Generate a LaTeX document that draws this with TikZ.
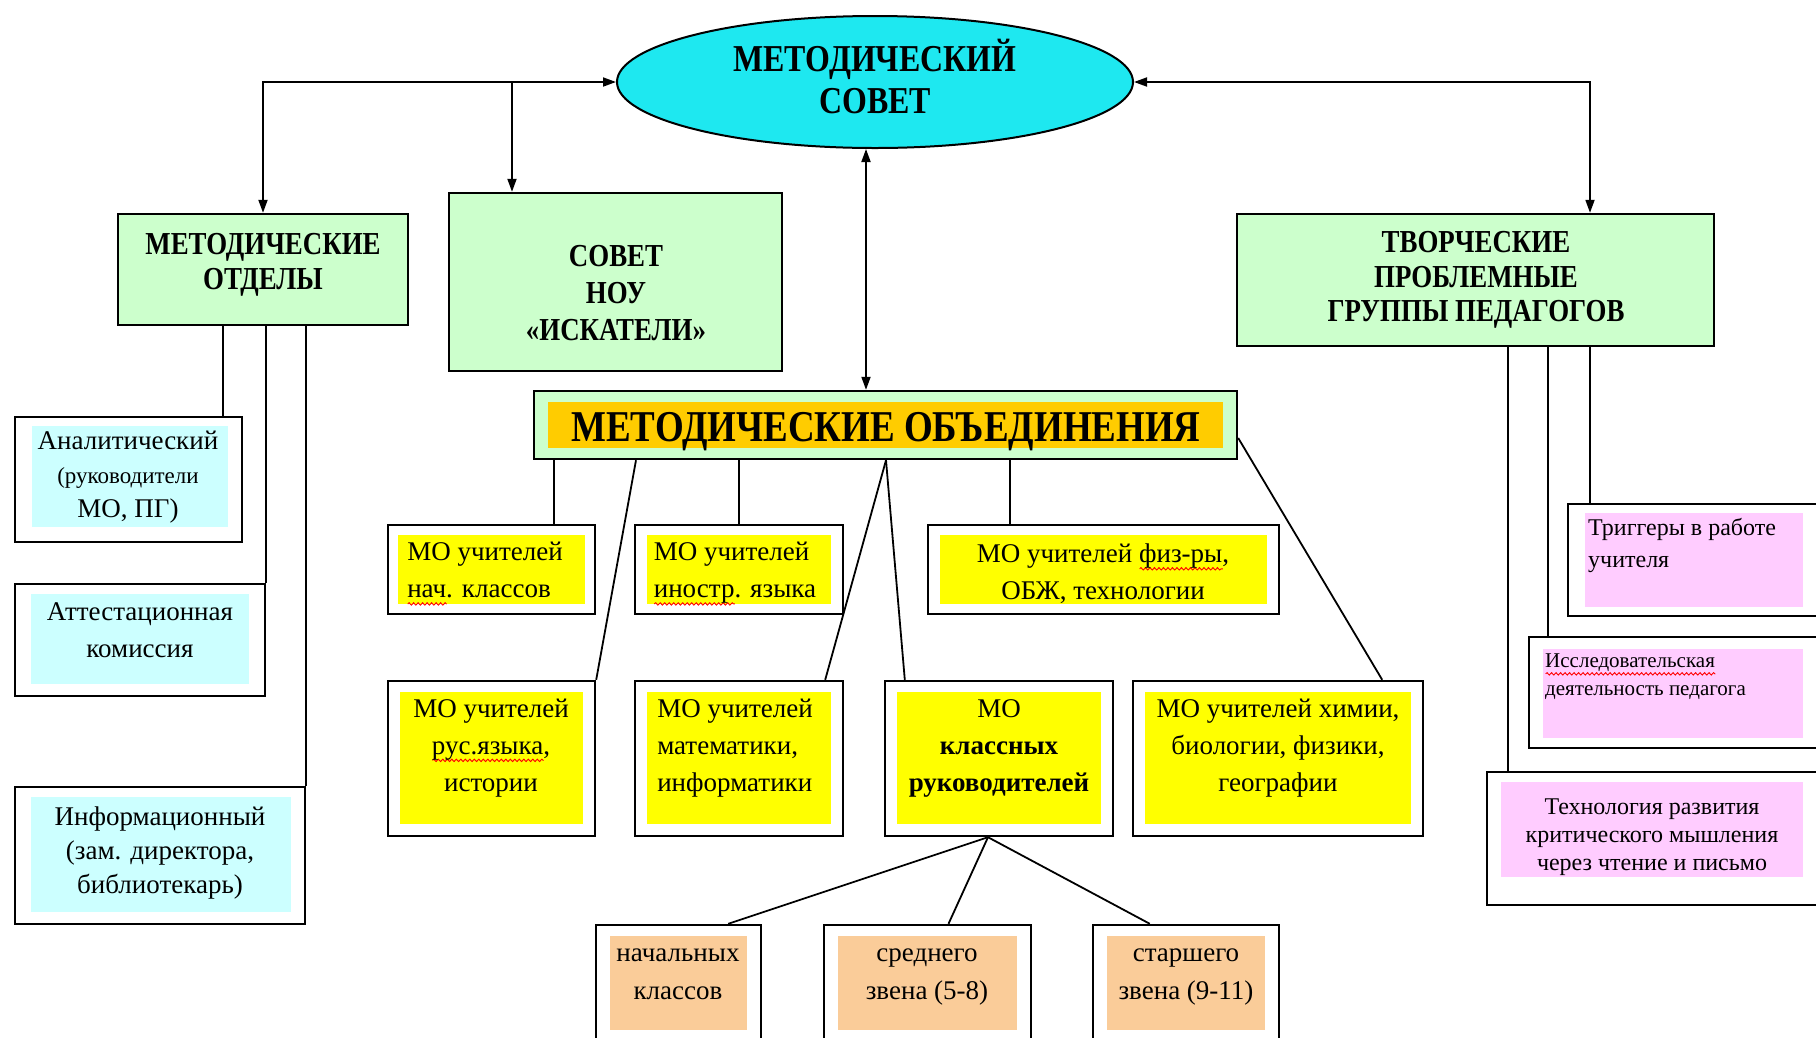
\documentclass[tikz,border=0pt]{standalone}
\usepackage{fontspec}
\setmainfont{Liberation Serif}
\newfontfamily\cond[FakeStretch=0.84]{Liberation Serif}
\usetikzlibrary{arrows.meta,shapes.geometric,fit,decorations.pathmorphing}
\definecolor{gr}{HTML}{CCFFCC}
\definecolor{cy}{RGB}{30,232,240}
\definecolor{og}{HTML}{FFCC00}
\definecolor{ye}{HTML}{FFFF00}
\definecolor{lc}{HTML}{CCFFFF}
\definecolor{pe}{HTML}{FACC99}
\definecolor{pk}{HTML}{FFCCFF}
\newlength\rwlen
\newcommand\rw[1]{\settowidth\rwlen{#1}\makebox[0pt][l]{\tikz[baseline=0pt]\draw[red,line width=0.9pt,decorate,decoration={snake,amplitude=1.2pt,segment length=4.5pt}] (0pt,-6pt) -- (\rwlen,-6pt);}#1}
\tikzset{
  Tri/.tip={Triangle[length=13pt,width=9pt]},
  con/.style={line width=1.8pt, draw=black},
  gbox/.style={draw=black, line width=2.4pt, fill=gr, inner sep=0pt},
  ibox/.style n args={5}{draw=black, line width=2.4pt, fill=white, inner sep=0pt,
    path picture={\fill[#1] ([shift={(#2pt,-#3pt)}]path picture bounding box.north west) rectangle ([shift={(-#4pt,#5pt)}]path picture bounding box.south east);}},
  head/.style={font=\cond\bfseries\fontsize{32}{35}\selectfont, align=center, inner sep=0pt},
  mot/.style={font=\fontsize{27}{37}\selectfont, inner sep=0pt},
  lt/.style={font=\fontsize{27}{34}\selectfont, inner sep=0pt, align=center},
}
\begin{document}
\begin{tikzpicture}[x=1pt,y=-1pt]
\useasboundingbox (0,0) rectangle (1816,1037);
\clip (0,0) rectangle (1816,1037);
\fill[white] (0,0) rectangle (1816,1037);

% top
\node[ellipse, draw=black, line width=2pt, fill=cy, minimum width=516pt, minimum height=132pt, inner sep=0pt, text depth=12pt, font=\cond\bfseries\fontsize{38}{42}\selectfont, align=center] (ms) at (875,82) {МЕТОДИЧЕСКИЙ\\СОВЕТ};

\node[gbox, fit={(118,214) (408,325)}] (otd) {};
\node[head] (otd-t) at (263,264.5) {МЕТОДИЧЕСКИЕ\\ОТДЕЛЫ};
\node[gbox, fit={(449,193) (782,371)}] (nou) {};
\node[head, font=\cond\bfseries\fontsize{32}{37}\selectfont] (nou-t) at (616,293) {СОВЕТ\\НОУ\\«ИСКАТЕЛИ»};
\node[gbox, fit={(1237,214) (1714,346)}] (tvo) {};
\node[head, font=\cond\bfseries\fontsize{32}{34.5}\selectfont] (tvo-t) at (1476,280) {ТВОРЧЕСКИЕ\\ПРОБЛЕМНЫЕ\\ГРУППЫ ПЕДАГОГОВ};

% MO header
\node[ibox={og}{14}{11}{14}{11}, fill=gr, fit={(534,391) (1237,459)}] (mo) {};
\node[font=\cond\bfseries\fontsize{44}{48}\selectfont, inner sep=0pt] (mo-t) at (886,432) {МЕТОДИЧЕСКИЕ ОБЪЕДИНЕНИЯ};

% row 1
\node[ibox={ye}{10}{10}{10}{10}, fit={(388,525) (595,614)}] (m1) {};
\node[mot, align=left] (m1-t) at (485,574) {МО учителей\\\rw{нач}. классов};
\node[ibox={ye}{12}{10}{12}{10}, fit={(635,525) (843,614)}] (m2) {};
\node[mot, align=left] (m2-t) at (735,574) {МО учителей\\\rw{иностр}. языка};
\node[ibox={ye}{12}{10}{12}{10}, fit={(928,525) (1279,614)}] (m3) {};
\node[mot, align=center] (m3-t) at (1103,574) {МО учителей \rw{физ-ры},\\ОБЖ, технологии};

% row 2
\node[ibox={ye}{12}{11}{12}{12}, fit={(388,681) (595,836)}] (m4) {};
\node[mot, align=center] (m4-t) at (491,748) {МО учителей\\\rw{рус.языка},\\истории};
\node[ibox={ye}{12}{11}{12}{12}, fit={(635,681) (843,836)}] (m5) {};
\node[mot, align=left] (m5-t) at (735,748) {МО учителей\\математики,\\информатики};
\node[ibox={ye}{12}{11}{12}{12}, fit={(885,681) (1113,836)}] (m6) {};
\node[mot, align=center] (m6-t) at (999,748) {МО\\\textbf{классных}\\\textbf{руководителей}};
\node[ibox={ye}{12}{11}{12}{12}, fit={(1133,681) (1423,836)}] (m7) {};
\node[mot, align=center] (m7-t) at (1278,748) {МО учителей химии,\\биологии, физики,\\географии};

% bottom
\node[ibox={pe}{14}{11}{14}{20}, fit={(596,925) (761,1050)}] (b1) {};
\node[mot, align=center, font=\fontsize{27}{38}\selectfont] (b1-t) at (678,974) {начальных\\классов};
\node[ibox={pe}{14}{11}{14}{20}, fit={(824,925) (1031,1050)}] (b2) {};
\node[mot, align=center, font=\fontsize{27}{38}\selectfont] (b2-t) at (927,977) {среднего\\звена (5-8)};
\node[ibox={pe}{14}{11}{14}{20}, fit={(1093,925) (1279,1050)}] (b3) {};
\node[mot, align=center, font=\fontsize{27}{38}\selectfont] (b3-t) at (1186,977) {старшего\\звена (9-11)};

% left
\node[ibox={lc}{17}{9}{14}{15}, fit={(15,417) (242,542)}] (a1) {};
\node[lt] (a1-t) at (128,477) {Аналитический\\{\fontsize{23}{34}\selectfont(руководители}\\МО, ПГ)};
\node[ibox={lc}{16}{10}{16}{12}, fit={(15,584) (265,696)}] (a2) {};
\node[lt, font=\fontsize{27}{37}\selectfont] (a2-t) at (140,630) {Аттестационная\\комиссия};
\node[ibox={lc}{16}{10}{14}{12}, fit={(15,787) (305,924)}] (a3) {};
\node[lt] (a3-t) at (160,853) {Информационный\\(зам. директора,\\библиотекарь)};

% right
\node[ibox={pk}{17}{9}{27}{9}, fit={(1568,504) (1830,616)}] (r1) {};
\node[inner sep=0pt, anchor=west, align=left, font=\fontsize{24}{32}\selectfont] (r1-t) at (1588,545) {Триггеры в работе\\учителя};
\node[ibox={pk}{14}{12}{27}{10}, fit={(1529,637) (1830,748)}] (r2) {};
\node[inner sep=0pt, anchor=west, align=left, font=\fontsize{21}{28}\selectfont] (r2-t) at (1545,677) {\rw{Исследовательская}\\деятельность педагога};
\node[ibox={pk}{14}{10}{27}{28}, fit={(1487,772) (1830,905)}] (r3) {};
\node[inner sep=0pt, align=center, font=\fontsize{24}{28}\selectfont] (r3-t) at (1652,837) {Технология развития\\критического мышления\\через чтение и письмо};

% connectors top
\coordinate (jl) at (512,82);
\coordinate (jr) at (1590,82);
\coordinate (jv) at (866,0);
\draw[con, Tri-Tri] (ms.west) -| (otd.north);
\draw[con, -Tri] (jl) -- (jl |- nou.north);
\draw[con, Tri-Tri] (ms.east) -- (jr) -- (jr |- tvo.north);
\draw[con, Tri-Tri] (jv |- ms.south) -- (jv |- mo.north);

% left connectors
\coordinate (l1) at (223,0);
\draw[con] (l1 |- otd.south) -- (l1 |- a1.north);
\draw[con] (a2.north east |- otd.south) -- (a2.north east);
\draw[con] (a3.north east |- otd.south) -- (a3.north east);

% right connectors
\coordinate (r2x) at (1548,0);
\coordinate (r3x) at (1508,0);
\draw[con] (jr |- tvo.south) -- (jr |- r1.north);
\draw[con] (r2x |- tvo.south) -- (r2x |- r2.north);
\draw[con] (r3x |- tvo.south) -- (r3x |- r3.north);

% MO connectors
\coordinate (c1) at (554,0);
\coordinate (c2) at (739,0);
\coordinate (c3) at (1010,0);
\coordinate (c4) at (636,0);
\coordinate (c5) at (886,0);
\draw[con] (c1 |- mo.south) -- (c1 |- m1.north);
\draw[con] (c2 |- mo.south) -- (c2 |- m2.north);
\draw[con] (c3 |- mo.south) -- (c3 |- m3.north);
\draw[con] (c4 |- mo.south) -- (m4.north east);
\draw[con] (c5 |- mo.south) -- ([xshift=-19pt]m5.north east);
\draw[con] (c5 |- mo.south) -- ([xshift=21pt]m6.north west);
\draw[con] ([yshift=-13pt]mo.east) -- ([xshift=-42pt]m7.north east);

% bottom connectors
\coordinate (kb) at ([xshift=-11pt]m6.south);
\draw[con] (kb) -- ([xshift=-34pt]b1.north east);
\draw[con] (kb) -- ([xshift=21pt]b2.north);
\draw[con] (kb) -- ([xshift=58pt]b3.north west);
\end{tikzpicture}
\end{document}
